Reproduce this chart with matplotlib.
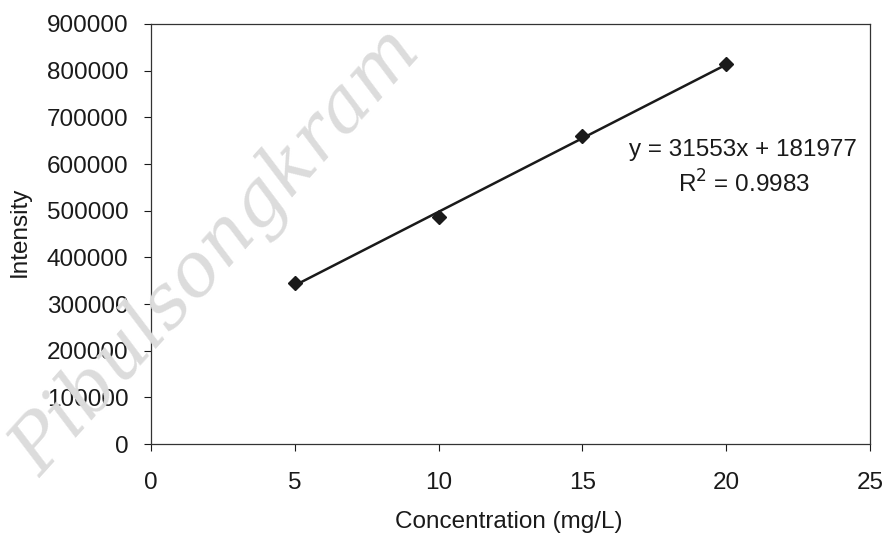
import matplotlib

matplotlib.use("Agg")
import matplotlib.pyplot as plt  # noqa: E402
import numpy as np  # noqa: E402

# calibration data
conc = [5, 10, 15, 20]
intensity = [345000, 487000, 661000, 815000]

# trendline as printed on the chart
slope = 31553
intercept = 181977
r2 = 0.9983

x_ticks = [0, 5, 10, 15, 20, 25]
y_ticks = [0, 100000, 200000, 300000, 400000, 500000, 600000, 700000, 800000, 900000]

INK = "#1a1a1a"
FS = 17.5

plt.rcParams["font.family"] = ["Liberation Sans", "DejaVu Sans"]

fig = plt.figure(figsize=(8.87, 5.38), dpi=100)
ax = fig.add_axes([0.170, 0.1747, 0.811, 0.7807])

# faint watermark behind the chart
fig.text(0.245, 0.53, "Pibulsongkram", fontsize=54, family="DejaVu Serif",
         style="italic", color="#dcdcdc", rotation=48, ha="center", va="center",
         zorder=0)

xs = np.array([min(conc), max(conc)])
ax.plot(xs, slope * xs + intercept, color=INK, lw=1.8, zorder=2)
ax.plot(conc, intensity, ls="none", marker="D", ms=7, color=INK, zorder=3)

ax.text(0.823, 0.700, f"y = {slope}x + {intercept}", transform=ax.transAxes,
        ha="center", va="center", fontsize=FS, color=INK)
ax.text(0.825, 0.618, f"R$^2$ = {r2}", transform=ax.transAxes,
        ha="center", va="center", fontsize=FS, color=INK)

ax.set_xlim(0, 25)
ax.set_ylim(0, 900000)
ax.set_xticks(x_ticks)
ax.set_yticks(y_ticks)
ax.set_yticklabels([str(v) for v in y_ticks])
ax.tick_params(direction="out", length=5, width=0.8, colors=INK, labelsize=FS)
ax.tick_params(axis="y", pad=11)
ax.tick_params(axis="x", pad=15)
for s in ax.spines.values():
    s.set_color("#333333")
    s.set_linewidth(0.9)
ax.patch.set_alpha(0)

ax.set_xlabel("Concentration (mg/L)", fontsize=FS, color=INK, va="center")
ax.xaxis.set_label_coords(0.498, -0.186)
ax.set_ylabel("Intensity", fontsize=FS, color=INK, va="center")
ax.yaxis.set_label_coords(-0.182, 0.505)

fig.savefig("out.png", dpi=100)
plt.close(fig)
